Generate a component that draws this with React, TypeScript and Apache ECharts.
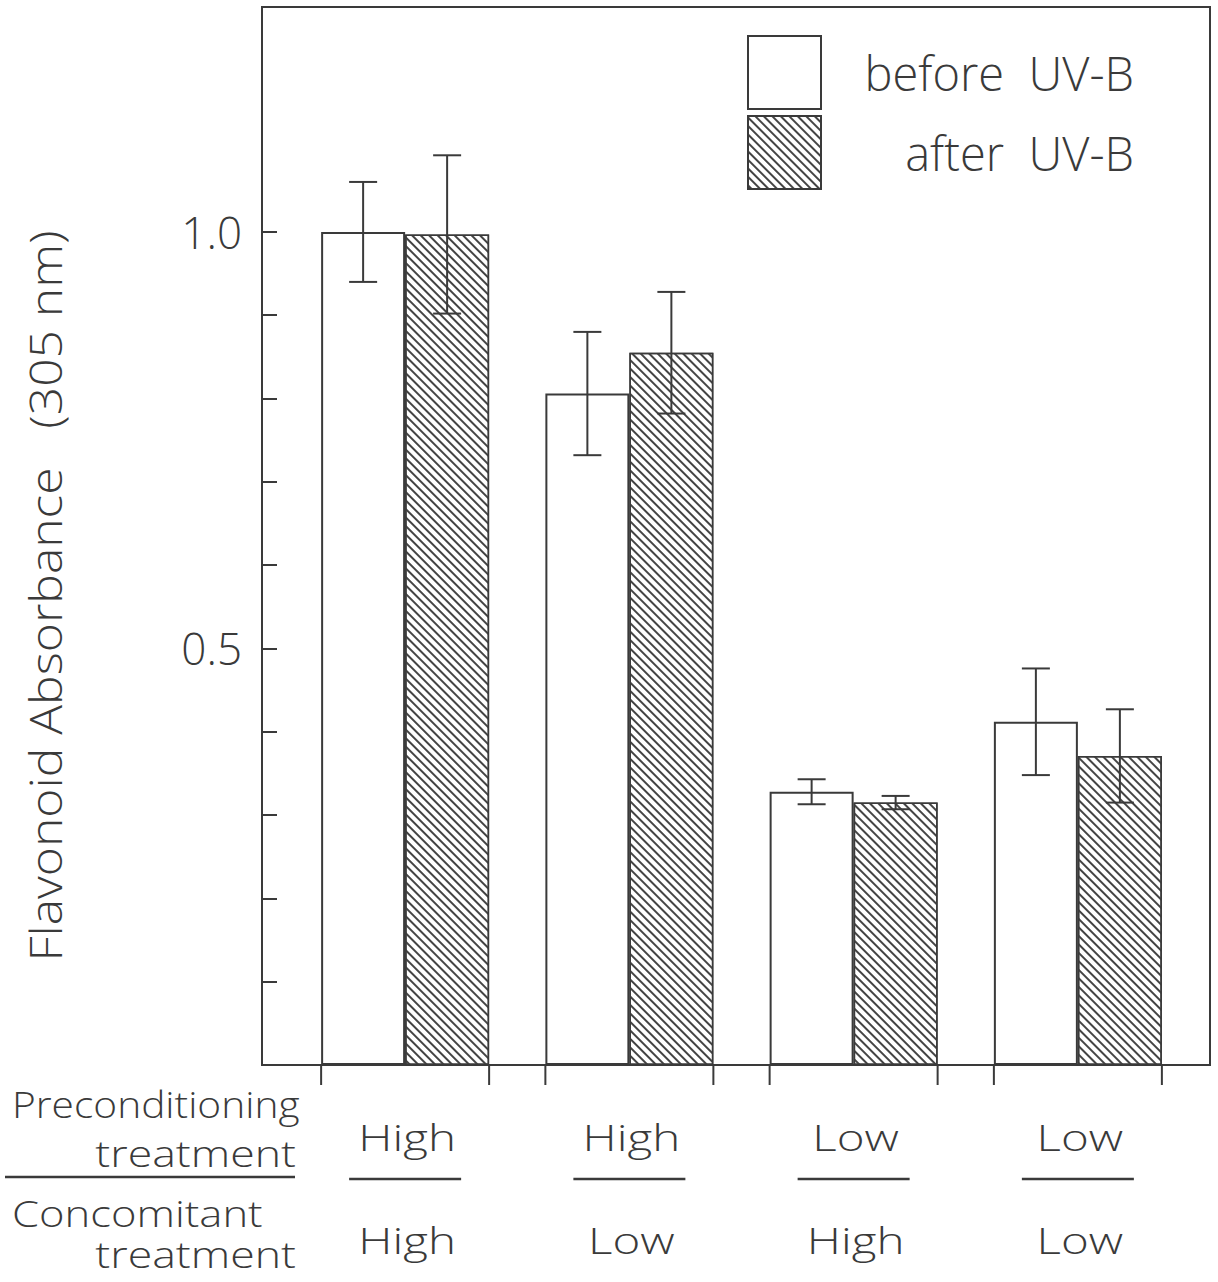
import React, { useEffect, useRef } from "react";
import * as echarts from "echarts";

const preconditioning = ["High", "High", "Low", "Low"];
const concomitant = ["High", "Low", "High", "Low"];
const beforeValues = [1.0, 0.806, 0.328, 0.412];
const beforeErrors = [0.06, 0.074, 0.015, 0.064];
const afterValues = [0.997, 0.855, 0.315, 0.371];
const afterErrors = [0.095, 0.073, 0.008, 0.056];
const yTickValues = [0.1, 0.2, 0.3, 0.4, 0.5, 0.6, 0.7, 0.8, 0.9, 1.0];
const yLabelValues = [0.5, 1.0];
const seriesNames = ["before UV-B", "after UV-B"];

const FONT = "'Open Sans', 'DejaVu Sans', sans-serif";
const INK = "#3a3a3a";
const BAR_W = 84;

function errorRender(offset: number) {
  return (params: any, api: any) => {
    const i = api.value(0);
    const v = api.value(1);
    const e = api.value(2);
    const hi = api.coord([i, v + e]);
    const lo = api.coord([i, v - e]);
    const x = hi[0] + offset;
    const cap = 14;
    const style = { stroke: INK, lineWidth: 2 };
    return {
      type: "group",
      children: [
        { type: "line", shape: { x1: x, y1: hi[1], x2: x, y2: lo[1] }, style },
        { type: "line", shape: { x1: x - cap, y1: hi[1], x2: x + cap, y2: hi[1] }, style },
        { type: "line", shape: { x1: x - cap, y1: lo[1], x2: x + cap, y2: lo[1] }, style },
      ],
    };
  };
}

function catText(text: string, x: number, y: number) {
  return {
    type: "text",
    x,
    y,
    scaleX: 1.32,
    style: {
      text,
      fontSize: 36,
      fontWeight: 300,
      fontFamily: FONT,
      fill: INK,
      align: "center",
      verticalAlign: "middle",
    },
  };
}

function decorRender(params: any, api: any) {
  const i = api.value(0);
  const p = api.coord([i, 0]);
  const cx = p[0];
  const y0 = p[1];
  const style = { stroke: INK, lineWidth: 2 };
  return {
    type: "group",
    children: [
      { type: "line", shape: { x1: cx - BAR_W, y1: y0, x2: cx - BAR_W, y2: y0 + 20 }, style },
      { type: "line", shape: { x1: cx + BAR_W, y1: y0, x2: cx + BAR_W, y2: y0 + 20 }, style },
      { type: "line", shape: { x1: cx - 56, y1: y0 + 114, x2: cx + 56, y2: y0 + 114 }, style: { stroke: INK, lineWidth: 2.5 } },
      catText(preconditioning[params.dataIndex], cx + 2, y0 + 72),
      catText(concomitant[params.dataIndex], cx + 2, y0 + 175),
    ],
  };
}

function sideText(text: string, x: number, y: number, align: string, scaleX: number) {
  return {
    type: "text",
    x,
    y,
    scaleX,
    style: { text, fontSize: 36, fontWeight: 300, fontFamily: FONT, fill: INK, align, verticalAlign: "middle" },
  };
}

export default function App() {
  const ref = useRef<HTMLDivElement>(null);
  useEffect(() => {
    if (!ref.current) return;
    const chart = echarts.init(ref.current, null, { renderer: "svg" });
    const idx = preconditioning.map((_, i) => i);
    chart.setOption({
      animation: false,
      backgroundColor: "#ffffff",
      textStyle: { fontFamily: FONT, color: INK },
      grid: [
        { left: 262, top: 7, width: 948, height: 1058, show: true, borderColor: INK, borderWidth: 2, backgroundColor: "transparent" },
        { left: 293, top: 7, width: 897, height: 1058 },
      ],
      legend: {
        data: seriesNames,
        orient: "vertical",
        left: 747,
        top: 35,
        itemWidth: 73,
        itemHeight: 73,
        itemGap: 5,
        padding: 0,
        icon: "rect",
        textStyle: {
          rich: {
            r: { width: 308, align: "right", fontSize: 47, fontFamily: FONT, fontWeight: 300, color: INK },
          },
        },
        formatter: (name: string) => `{r|${name.replace(" ", "  ")}}`,
      },
      xAxis: [
        { type: "value", gridIndex: 0, min: 0, max: 1, show: false },
        {
          type: "category",
          gridIndex: 1,
          data: preconditioning.map((p, i) => p + " / " + concomitant[i]),
          position: "bottom",
          axisLine: { show: false },
          axisTick: { show: false },
          axisLabel: { show: false },
        },
      ],
      yAxis: [
        {
          type: "value",
          gridIndex: 0,
          min: 0,
          max: 1.27,
          splitLine: { show: false },
          axisLine: { show: false },
          axisTick: { show: true, inside: true, length: 15, customValues: yTickValues, lineStyle: { color: INK, width: 2 } },
          axisLabel: {
            customValues: yLabelValues,
            formatter: (v: number) => v.toFixed(1),
            fontSize: 44,
            fontWeight: 300,
            color: INK,
            margin: 20,
            fontFamily: FONT,
          },
        },
        { type: "value", gridIndex: 1, min: 0, max: 1.27, show: false },
      ],
      series: [
        {
          name: seriesNames[0],
          type: "bar",
          xAxisIndex: 1,
          yAxisIndex: 1,
          barWidth: BAR_W,
          barGap: "0%",
          data: beforeValues,
          itemStyle: { color: "#ffffff", borderColor: INK, borderWidth: 2 },
          z: 2,
        },
        {
          name: seriesNames[1],
          type: "bar",
          xAxisIndex: 1,
          yAxisIndex: 1,
          barWidth: BAR_W,
          barGap: "0%",
          data: afterValues,
          itemStyle: {
            color: "#ffffff",
            borderColor: INK,
            borderWidth: 1.5,
            decal: {
              symbol: "rect",
              symbolSize: 1,
              color: "#444444",
              backgroundColor: "#ffffff",
              dashArrayX: [1, 0],
              dashArrayY: [1.2, 3.8],
              rotation: Math.PI / 4,
            },
          },
          z: 2,
        },
        {
          type: "custom",
          xAxisIndex: 1,
          yAxisIndex: 1,
          renderItem: errorRender(-BAR_W / 2),
          data: beforeValues.map((v, i) => [i, v, beforeErrors[i]]),
          z: 10,
          silent: true,
        },
        {
          type: "custom",
          xAxisIndex: 1,
          yAxisIndex: 1,
          renderItem: errorRender(BAR_W / 2),
          data: afterValues.map((v, i) => [i, v, afterErrors[i]]),
          z: 10,
          silent: true,
        },
        {
          type: "custom",
          xAxisIndex: 1,
          yAxisIndex: 1,
          renderItem: decorRender,
          data: idx.map((i) => [i, 0]),
          clip: false,
          z: 10,
          silent: true,
        },
      ],
      graphic: [
        {
          type: "text",
          x: 45,
          y: 596,
          rotation: Math.PI / 2,
          scaleX: 1.13,
          style: {
            text: "Flavonoid Absorbance   (305 nm)",
            fontSize: 44,
            fontWeight: 300,
            fontFamily: FONT,
            fill: INK,
            align: "center",
            verticalAlign: "middle",
          },
        },
        sideText("Preconditioning", 12, 1104, "left", 1.13),
        sideText("treatment", 296, 1153, "right", 1.24),
        {
          type: "line",
          shape: { x1: 5, y1: 1177, x2: 295, y2: 1177 },
          style: { stroke: INK, lineWidth: 2.5 },
        },
        sideText("Concomitant", 12, 1213, "left", 1.21),
        sideText("treatment", 296, 1254, "right", 1.24),
      ],
    });
    return () => chart.dispose();
  }, []);
  return <div ref={ref} style={{ width: 1218, height: 1282, position: "absolute", left: 0, top: 0 }} />;
}
